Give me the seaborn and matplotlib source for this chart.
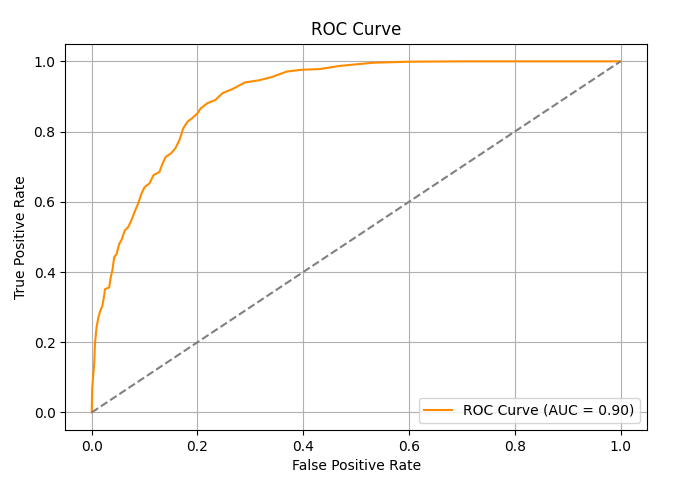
import matplotlib
matplotlib.use("Agg")
import matplotlib.pyplot as plt
import seaborn as sns
import pandas as pd

# ROC curve points
fpr = [0.0, 0.001, 0.003, 0.005, 0.006, 0.009, 0.0125, 0.016, 0.02, 0.024, 0.025,
       0.033, 0.036, 0.039, 0.0425, 0.047, 0.052, 0.056, 0.0625, 0.069, 0.075,
       0.081, 0.0875, 0.094, 0.1, 0.109, 0.117, 0.128, 0.134, 0.14, 0.15, 0.158,
       0.166, 0.173, 0.181, 0.19, 0.2, 0.206, 0.219, 0.234, 0.247, 0.266, 0.29,
       0.316, 0.34, 0.369, 0.397, 0.431, 0.469, 0.532, 0.601, 0.71, 1.0]
tpr = [0.0, 0.07, 0.108, 0.146, 0.194, 0.241, 0.27, 0.289, 0.303, 0.337, 0.351,
       0.356, 0.385, 0.404, 0.442, 0.451, 0.48, 0.49, 0.518, 0.528, 0.547,
       0.571, 0.594, 0.623, 0.642, 0.652, 0.676, 0.685, 0.709, 0.728, 0.738, 0.752,
       0.776, 0.809, 0.828, 0.838, 0.852, 0.866, 0.881, 0.89, 0.909, 0.921, 0.94,
       0.946, 0.955, 0.971, 0.976, 0.978, 0.987, 0.996, 0.999, 1.0, 1.0]
diag = [0.0, 1.0]
auc_label = "ROC Curve (AUC = 0.90)"

df = pd.DataFrame({"fpr": fpr, "tpr": tpr})
dg = pd.DataFrame({"x": diag, "y": diag})

fig = plt.figure(figsize=(6.75, 4.92), dpi=100)
ax = fig.add_axes([0.0967, 0.126, 0.9585 - 0.0967, 0.911 - 0.126])

sns.lineplot(data=df, x="fpr", y="tpr", sort=False, estimator=None,
             color="darkorange", linewidth=1.5, label=auc_label, ax=ax)
sns.lineplot(data=dg, x="x", y="y", sort=False, estimator=None,
             color="gray", linestyle="--", linewidth=1.5, ax=ax)

ax.set_title("ROC Curve")
ax.set_xlabel("False Positive Rate")
ax.set_ylabel("True Positive Rate")
ax.grid(True)
ax.legend(loc="lower right")

fig.savefig("out.png", dpi=100)
